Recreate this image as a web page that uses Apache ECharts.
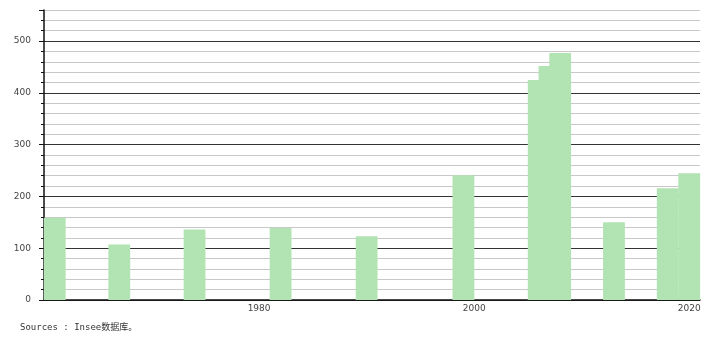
<!DOCTYPE html>
<html lang="fr">
<head>
  <meta charset="UTF-8">
  <title>Insee</title>
  <style>
    html, body { margin: 0; padding: 0; background: #fff; }
    #chart { width: 710px; height: 340px; }
  </style>
</head>
<body>
  <div id="chart"></div>
  <script src="https://cdn.jsdelivr.net/npm/echarts@6/dist/echarts.min.js"></script>
  <script>
    // years and values
    let years = [1961, 1967, 1974, 1982, 1990, 1999, 2006, 2007, 2008, 2013, 2018, 2020];
    let values = [159, 107, 136, 139, 123, 241, 425, 452, 477, 150, 216, 245];
    let xTicks = [1980, 2000, 2020];
    let source = 'Sources : Insee数据库。';

    let chart = echarts.init(document.getElementById('chart'));

    let option = {
      animation: false,
      grid: { left: 44, right: 10, top: 10, bottom: 40, containLabel: false },
      xAxis: {
        type: 'value',
        min: 1960,
        max: 2021,
        interval: 20,
        axisLine: { lineStyle: { color: '#111', width: 1.5 } },
        axisTick: { show: false },
        splitLine: { show: false },
        axisLabel: {
          showMinLabel: false,
          showMaxLabel: false,
          color: '#444',
          fontFamily: 'DejaVu Sans',
          fontSize: 9,
          margin: 4,
          formatter: v => xTicks.indexOf(v) >= 0 ? String(v) : ''
        }
      },
      yAxis: [
        {
          type: 'value',
          min: 0,
          max: 560,
          interval: 20,
          axisLine: { show: true, lineStyle: { color: '#111', width: 1.5 } },
          axisTick: { show: true, length: 3, lineStyle: { color: '#111' } },
          splitLine: {
            show: true,
            lineStyle: { color: ['#333', '#c8c8c8', '#c8c8c8', '#c8c8c8', '#c8c8c8'], width: 1 }
          },
          axisLabel: {
            color: '#444',
            fontFamily: 'DejaVu Sans',
            fontSize: 9,
            margin: 13,
            formatter: v => (v % 100 === 0 ? String(v) : '')
          }
        },
        {
          type: 'value',
          position: 'left',
          min: 0,
          max: 560,
          interval: 100,
          axisLine: { show: false },
          axisTick: { show: true, length: 5, lineStyle: { color: '#111' } },
          axisLabel: { show: false },
          splitLine: { show: false }
        }
      ],
      series: [
        {
          type: 'bar',
          barWidth: 21.8,
          itemStyle: { color: '#b2e4b3', borderWidth: 0 },
          data: years.map((y, i) => [y, values[i]])
        }
      ],
      graphic: [
        {
          type: 'text',
          left: 20,
          top: 323,
          style: {
            text: source,
            fill: '#333',
            font: '9px "DejaVu Sans Mono", "Noto Sans CJK SC", monospace'
          }
        }
      ]
    };
    chart.setOption(option);
  </script>
</body>
</html>
